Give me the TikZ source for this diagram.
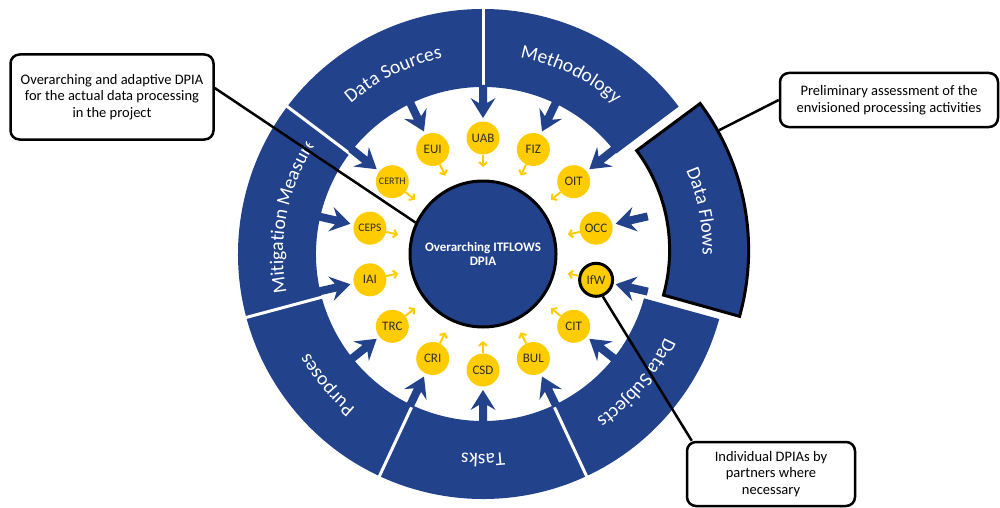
\documentclass[tikz,border=0pt]{standalone}
\usepackage{fontspec}
\setmainfont{Carlito}
\usetikzlibrary{calc,arrows.meta,decorations.text}

\definecolor{ringblue}{RGB}{34,66,139}
\definecolor{partneryellow}{RGB}{255,204,0}
\definecolor{labelgray}{RGB}{45,45,45}

% annular sector: start angle, end angle, outer radius, inner radius
\newcommand\ringpiece[4]{(#1:#3) arc[start angle=#1,end angle=#2,radius=#3] -- (#2:#4) arc[start angle=#2,end angle=#1,radius=#4] -- cycle}
\newcommand\ringlabelfont{\color{white}\fontsize{19.5}{20}\selectfont}

\begin{document}
\begin{tikzpicture}[x=1pt,y=1pt,
  partner/.style={circle, fill=partneryellow, minimum size=33pt, inner sep=0pt,
    text=labelgray, font=\fontsize{13}{13}\selectfont},
  partnersmall/.style={font=\fontsize{10}{10}\selectfont},
  partnermid/.style={font=\fontsize{11.5}{11.5}\selectfont},
  partnermarked/.style={draw=black, line width=3pt},
  flowtip/.style={partneryellow, line width=2pt, -{Straight Barb[length=3.5pt,width=8pt]}},
  callout/.style={draw=black, line width=2.5pt, rounded corners=9pt, fill=white,
    align=center, inner sep=0pt, font=\fontsize{14.5}{16.5}\selectfont},
  leader/.style={draw=black, line width=2.5pt}]

\useasboundingbox (0,0) rectangle (1000,-508);

\begin{scope}[shift={(483,-254)}]
  % outer ring of aspects (Data Flows is drawn separately, pulled out)
  \fill[ringblue] \ringpiece{37}{344.6}{245}{167};
  \foreach \b in {90,143,195,245,295}
    \draw[white, line width=3pt] (\b:160) -- (\b:252);

  % pulled-out Data Flows segment
  \begin{scope}[shift={(11:20)}]
    \filldraw[fill=ringblue, draw=black, line width=3pt] \ringpiece{-15.6}{36.6}{246}{167};
    \coordinate (dfedge) at (29:247.5);
    \path[decorate, decoration={text along path, text align=center,
      text={|\ringlabelfont|Data Flows}}]
      (41:200) arc[start angle=41,end angle=-19,radius=200];
  \end{scope}

  % segment labels, set along the ring
  \path[decorate, decoration={text along path, text align=center,
    text={|\ringlabelfont|Data Sources}}]
    (146.5:200) arc[start angle=146.5,end angle=86.5,radius=200];
  \path[decorate, decoration={text along path, text align=center,
    text={|\ringlabelfont|Methodology}}]
    (94:200) arc[start angle=94,end angle=34,radius=200];
  \path[decorate, decoration={text along path, text align=center,
    text={|\ringlabelfont|Data Subjects}}]
    (-10:200) arc[start angle=-10,end angle=-70,radius=200];
  \path[decorate, decoration={text along path, text align=center,
    text={|\ringlabelfont|Tasks}}]
    (-60:200) arc[start angle=-60,end angle=-120,radius=200];
  \path[decorate, decoration={text along path, text align=center,
    text={|\ringlabelfont|Purposes}}]
    (-110:200) arc[start angle=-110,end angle=-170,radius=200];
  \begin{scope}
    \clip \ringpiece{147.5}{200}{250}{160};
    \path[decorate, decoration={text along path, text align=left,
      text={|\ringlabelfont|Mitigation Measures}}]
      (191:200) arc[start angle=191,end angle=120,radius=200];
  \end{scope}

  % inward arrows from the ring
  \foreach \k in {0,...,13} {
    \begin{scope}[rotate={90-\k*25.7142857}]
      \fill[ringblue] (136,0) -- (156,12.5) -- (151,4) -- (169,4)
        -- (169,-4) -- (151,-4) -- (156,-12.5) -- cycle;
    \end{scope}
  }

  % partners with their individual contributions
  \foreach \nm/\st [count=\k from 0] in {UAB/{},FIZ/{},OIT/{},OCC/{},IfW/partnermarked,
      CIT/{},BUL/{},CSD/{},CRI/{},TRC/{},IAI/{},CEPS/partnermid,CERTH/partnersmall,EUI/{}} {
    \node[partner,\st] (p\nm) at ({90-\k*25.7142857}:116) {\nm};
    \coordinate (t\nm) at ({90-\k*25.7142857}:87);
    \draw[flowtip] (p\nm) -- (t\nm);
  }

  % overarching DPIA
  \node[circle, fill=ringblue, draw=black, line width=3pt, minimum size=146pt,
    inner sep=0pt, text=white, align=center,
    font=\bfseries\fontsize{13}{14}\selectfont] (core) at (0,0)
    {Overarching ITFLOWS\\DPIA};
\end{scope}

% explanatory callouts
\node[callout, minimum width=203pt, minimum height=85pt] (scopebox) at (112,-97)
  {Overarching and adaptive DPIA\\for the actual data processing\\in the project};
\node[callout, minimum width=218pt, minimum height=54pt] (prelimbox) at (889,-100)
  {Preliminary assessment of the\\envisioned processing activities};
\node[callout, minimum width=168pt, minimum height=64pt] (partnerbox) at (771,-474)
  {Individual DPIAs by\\partners where\\necessary};

\coordinate (scopebox-tap) at ($(scopebox.east)+(0,9)$);
\coordinate (partnerbox-tap) at ($(partnerbox.north west)+(6,0)$);
\draw[leader] (scopebox-tap) -- (core.155);
\draw[leader] (prelimbox.west) -- (dfedge);
\draw[leader] (pIfW.-68) -- (partnerbox-tap);
\end{tikzpicture}
\end{document}
